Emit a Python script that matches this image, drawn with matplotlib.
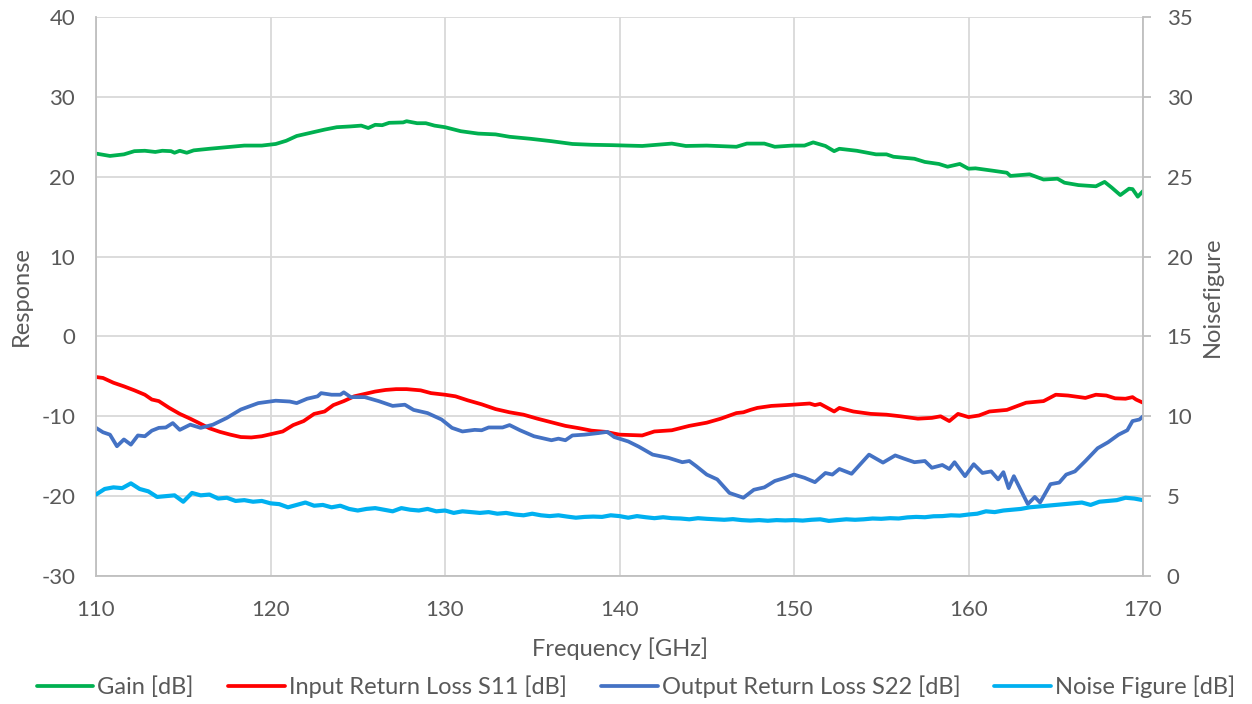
import numpy as np
import matplotlib
matplotlib.use("Agg")
import matplotlib.pyplot as plt

plt.rcParams['font.family'] = ['Lato', 'DejaVu Sans']
plt.rcParams['axes.unicode_minus'] = False

gain_f = [110,110.8,111.6,112.2,112.8,113.4,113.8,114.3,114.5,114.8,115.2,115.6,116.5,117.5,118.5,119.5,120.3,120.9,121.5,122.3,123.1,123.8,124.6,125.2,125.6,126.0,126.4,126.8,127.6,127.8,128.4,128.9,129.4,130.0,130.9,131.9,132.9,133.7,134.9,136.1,137.3,138.4,139.6,140.4,141.3,143.0,143.8,145.0,146.7,147.3,148.3,148.9,149.9,150.6,151.1,151.8,152.3,152.6,153.6,154.7,155.3,155.7,156.9,157.5,158.3,158.8,159.5,160.0,160.4,161.4,162.2,162.4,163.5,164.3,165.1,165.5,166.3,167.3,167.8,168.2,168.7,169.2,169.4,169.7,170.0]
gain_v = [22.9,22.6,22.8,23.2,23.25,23.1,23.25,23.2,23.0,23.25,23.0,23.3,23.5,23.7,23.9,23.9,24.1,24.5,25.1,25.5,25.9,26.2,26.3,26.4,26.1,26.5,26.45,26.75,26.8,26.95,26.7,26.7,26.4,26.2,25.7,25.4,25.3,25.0,24.75,24.45,24.1,24.0,23.95,23.9,23.85,24.15,23.85,23.9,23.75,24.15,24.15,23.75,23.9,23.9,24.3,23.85,23.2,23.5,23.25,22.8,22.8,22.5,22.25,21.85,21.6,21.25,21.6,21.0,21.05,20.75,20.5,20.1,20.3,19.65,19.75,19.25,18.95,18.8,19.35,18.65,17.7,18.5,18.45,17.5,18.2]

s11_f = [110,110.4,111.0,111.6,112.2,112.8,113.2,113.6,114.2,114.8,115.4,116.0,116.5,117.1,117.7,118.3,118.9,119.5,120.1,120.7,121.3,121.9,122.5,123.1,123.6,124.2,124.8,125.4,126.0,126.6,127.2,127.8,128.6,129.2,130.0,130.6,131.3,132.1,132.9,133.7,134.5,135.3,136.1,136.9,137.7,138.4,139.2,140.0,141.3,142.0,143.0,144.0,145.0,145.8,146.7,147.1,147.5,147.9,148.7,149.9,150.9,151.2,151.5,152.3,152.6,153.4,154.4,155.3,156.1,157.1,157.9,158.4,158.9,159.4,160.0,160.6,161.2,162.2,163.3,164.3,165.0,165.7,166.7,167.3,167.9,168.4,169.0,169.4,169.6,170.0]
s11_v = [-5.08,-5.2,-5.8,-6.25,-6.75,-7.3,-7.9,-8.1,-8.95,-9.7,-10.3,-10.95,-11.5,-11.95,-12.3,-12.6,-12.65,-12.5,-12.2,-11.9,-11.1,-10.6,-9.7,-9.4,-8.6,-8.1,-7.5,-7.2,-6.9,-6.7,-6.6,-6.6,-6.75,-7.1,-7.3,-7.5,-8.0,-8.5,-9.1,-9.5,-9.8,-10.3,-10.75,-11.2,-11.5,-11.8,-11.95,-12.3,-12.4,-11.9,-11.75,-11.2,-10.8,-10.3,-9.6,-9.5,-9.2,-8.95,-8.7,-8.55,-8.4,-8.6,-8.45,-9.4,-8.95,-9.4,-9.7,-9.8,-10.0,-10.3,-10.2,-10.0,-10.6,-9.7,-10.1,-9.9,-9.4,-9.2,-8.3,-8.1,-7.3,-7.4,-7.7,-7.3,-7.4,-7.75,-7.8,-7.6,-7.9,-8.3]

s22_f = [110,110.4,110.8,111.2,111.6,112.0,112.4,112.8,113.2,113.6,114.0,114.4,114.8,115.4,116.0,116.7,117.5,118.3,119.3,120.3,121.1,121.5,122.1,122.7,122.9,123.5,124.0,124.2,124.6,125.4,126.2,127.0,127.7,128.2,129.0,129.8,130.4,131.0,131.7,132.1,132.5,133.3,133.7,134.3,135.1,136.1,136.5,136.9,137.3,138.0,138.8,139.3,139.7,140.5,141.1,141.9,142.8,143.6,144.0,144.4,145.0,145.6,146.3,147.1,147.7,148.3,148.9,149.5,150.0,150.6,151.2,151.8,152.2,152.6,153.3,153.8,154.3,155.1,155.8,156.3,156.9,157.5,157.9,158.5,158.9,159.2,159.8,160.3,160.8,161.3,161.7,162.0,162.3,162.6,163.4,163.8,164.1,164.7,165.2,165.6,166.1,166.7,167.4,168.0,168.6,169.1,169.4,169.8,170.0]
s22_v = [-11.45,-12.0,-12.3,-13.75,-12.9,-13.55,-12.4,-12.5,-11.8,-11.45,-11.4,-10.85,-11.7,-11.05,-11.45,-11.05,-10.2,-9.15,-8.35,-8.05,-8.15,-8.35,-7.8,-7.5,-7.1,-7.3,-7.3,-7.0,-7.6,-7.6,-8.1,-8.7,-8.55,-9.2,-9.6,-10.4,-11.45,-11.9,-11.7,-11.75,-11.4,-11.4,-11.1,-11.75,-12.5,-13.0,-12.8,-13.0,-12.4,-12.3,-12.1,-11.95,-12.6,-13.15,-13.8,-14.8,-15.2,-15.75,-15.6,-16.25,-17.3,-17.9,-19.6,-20.2,-19.2,-18.9,-18.1,-17.7,-17.3,-17.7,-18.25,-17.1,-17.3,-16.6,-17.2,-16.0,-14.8,-15.8,-14.9,-15.3,-15.75,-15.6,-16.45,-16.1,-16.6,-15.75,-17.5,-16.0,-17.1,-16.9,-17.9,-17.0,-19.0,-17.5,-21.0,-20.1,-20.8,-18.5,-18.3,-17.3,-16.9,-15.6,-14.0,-13.25,-12.3,-11.75,-10.6,-10.4,-10.0]

nf_f = np.arange(110, 170.25, 0.5)
nf_v = [5.1, 5.45, 5.55, 5.5, 5.8, 5.45, 5.3, 4.95, 5.0, 5.05,
        4.65, 5.2, 5.05, 5.1, 4.85, 4.9, 4.7, 4.75, 4.65, 4.7,
        4.55, 4.5, 4.3, 4.45, 4.6, 4.4, 4.45, 4.3, 4.4, 4.2,
        4.1, 4.2, 4.25, 4.15, 4.05, 4.25, 4.15, 4.1, 4.2, 4.05,
        4.1, 3.95, 4.05, 4.0, 3.95, 4.0, 3.9, 3.95, 3.85, 3.8,
        3.9, 3.8, 3.75, 3.8, 3.72, 3.65, 3.7, 3.72, 3.7, 3.8,
        3.75, 3.65, 3.75, 3.68, 3.62, 3.68, 3.62, 3.6, 3.55, 3.62,
        3.58, 3.55, 3.52, 3.56, 3.5, 3.47, 3.5, 3.46, 3.5, 3.48,
        3.5, 3.47, 3.52, 3.55, 3.45, 3.5, 3.55, 3.52, 3.55, 3.6,
        3.58, 3.62, 3.6, 3.67, 3.7, 3.68, 3.74, 3.75, 3.8, 3.78,
        3.85, 3.9, 4.05, 4.0, 4.1, 4.15, 4.2, 4.3, 4.35, 4.4,
        4.45, 4.5, 4.55, 4.6, 4.45, 4.65, 4.7, 4.75, 4.9, 4.85,
        4.75]

labels = ["Gain [dB]", "Input Return Loss S11 [dB]", "Output Return Loss S22 [dB]", "Noise Figure [dB]"]
colors = ["#00B050", "#FF0000", "#4472C4", "#00B0F0"]
txt = "#595959"
grid_c = "#D9D9D9"
spine_c = "#BFBFBF"
fs_tick = 16
fs_lab = 17

fig = plt.figure(figsize=(12.52, 7.04), dpi=100)
ax = fig.add_axes([96/1252, 1-576/704, (1143-96)/1252, (576-17)/704])
ax2 = ax.twinx()

lw = 2.7
l1, = ax.plot(gain_f, gain_v, color=colors[0], lw=lw, solid_joinstyle='round', solid_capstyle='round', label=labels[0])
l2, = ax.plot(s11_f, s11_v, color=colors[1], lw=lw, solid_joinstyle='round', solid_capstyle='round', label=labels[1])
l3, = ax.plot(s22_f, s22_v, color=colors[2], lw=lw, solid_joinstyle='round', solid_capstyle='round', label=labels[2])
l4, = ax2.plot(nf_f, nf_v, color=colors[3], lw=3.0, solid_joinstyle='round', solid_capstyle='round', label=labels[3])

ax.set_xlim(110, 170)
ax.set_ylim(-30, 40)
ax2.set_ylim(0, 35)
ax.set_xticks(range(110, 171, 10))
ax.set_yticks(range(-30, 41, 10))
ax2.set_yticks(range(0, 36, 5))

ax.grid(True, color=grid_c, lw=1.3)
ax.set_axisbelow(True)

for a in (ax, ax2):
    for s in a.spines.values():
        s.set_visible(False)
for a, side in ((ax, 'left'), (ax, 'bottom'), (ax2, 'right')):
    a.spines[side].set_visible(True)
    a.spines[side].set_color(spine_c)
    a.spines[side].set_linewidth(1.3)

ax.tick_params(axis='both', length=0, labelsize=fs_tick, labelcolor=txt)
ax.tick_params(axis='x', pad=17)
ax.tick_params(axis='y', pad=15)
ax2.tick_params(axis='y', length=6, width=1.3, color=spine_c, labelsize=fs_tick, labelcolor=txt, pad=11)

ax.set_xlabel("Frequency [GHz]", fontsize=fs_lab, color=txt, labelpad=13)
ax.set_ylabel("Response", fontsize=fs_lab, color=txt, labelpad=7)
ax2.set_ylabel("Noisefigure", fontsize=fs_lab, color=txt, labelpad=7)

leg = fig.legend(handles=[l1, l2, l3, l4], labels=labels, loc='center', bbox_to_anchor=(636/1252, 1-687/704),
           ncol=4, frameon=False, fontsize=fs_lab, labelcolor=txt, handlelength=2.4,
           handletextpad=0.17, columnspacing=1.45)
for h in leg.get_lines():
    h.set_linewidth(2.7)

fig.savefig("out.png", dpi=100)
